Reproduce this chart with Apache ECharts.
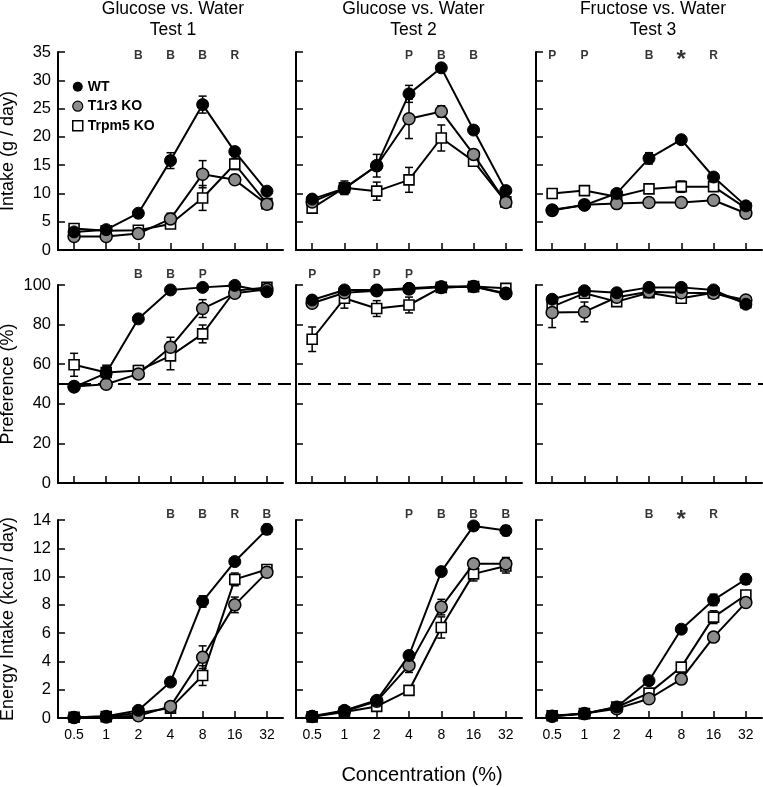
<!DOCTYPE html>
<html>
<head>
<meta charset="utf-8">
<script src="https://cdn.jsdelivr.net/npm/echarts@6/dist/echarts.min.js"></script>
<style>html,body{margin:0;padding:0;background:#fff;}#c{width:763px;height:787px;}</style>
</head>
<body>
<div id="c"></div>
<script>
// ---------- DATA ----------
const concentrations = ['0.5', '1', '2', '4', '8', '16', '32'];
const seriesNames = ['WT', 'T1r3 KO', 'Trpm5 KO'];
const panelTitles = ['Glucose vs. Water\nTest 1', 'Glucose vs. Water\nTest 2', 'Fructose vs. Water\nTest 3'];
const rowNames = ['Intake (g / day)', 'Preference (%)', 'Energy Intake (kcal / day)'];
const xAxisTitle = 'Concentration (%)';
const chanceLevel = 50;

// Row 1: intake (g/day)
const intakeT1_WT = [3.2, 3.6, 6.5, 15.8, 25.7, 17.4, 10.4];
const intakeT1_WT_err = [0.3, 0.3, 0.4, 1.4, 1.5, 0.6, 0.5];
const intakeT1_T1r3 = [2.4, 2.4, 2.9, 5.5, 13.4, 12.4, 8.1];
const intakeT1_T1r3_err = [0.3, 0.3, 0.3, 1.0, 2.4, 0.7, 0.4];
const intakeT1_Trpm5 = [3.8, 3.4, 3.5, 4.6, 9.2, 15.2, 8.2];
const intakeT1_Trpm5_err = [0.3, 0.3, 0.3, 0.5, 2.2, 1.0, 0.5];

const intakeT2_WT = [9.0, 10.9, 14.9, 27.6, 32.2, 21.2, 10.5];
const intakeT2_WT_err = [0.5, 1.0, 0.6, 1.5, 0.6, 0.6, 0.5];
const intakeT2_T1r3 = [8.5, 10.9, 14.9, 23.2, 24.5, 16.9, 8.4];
const intakeT2_T1r3_err = [0.5, 1.0, 2.0, 3.5, 1.0, 0.8, 0.4];
const intakeT2_Trpm5 = [7.4, 11.0, 10.4, 12.4, 19.8, 15.7, 8.5];
const intakeT2_Trpm5_err = [0.6, 1.2, 1.6, 2.2, 2.3, 0.6, 0.4];

const intakeT3_WT = [7.1, 7.9, 10.0, 16.2, 19.5, 12.9, 7.8];
const intakeT3_WT_err = [0.4, 0.4, 0.4, 1.0, 0.6, 0.5, 0.4];
const intakeT3_T1r3 = [7.0, 8.0, 8.2, 8.4, 8.4, 8.8, 6.5];
const intakeT3_T1r3_err = [0.3, 0.3, 0.3, 0.3, 0.5, 0.3, 0.3];
const intakeT3_Trpm5 = [10.0, 10.5, 9.4, 10.8, 11.2, 11.2, 7.4];
const intakeT3_Trpm5_err = [0.8, 0.8, 0.4, 0.5, 1.0, 0.5, 0.3];

// Row 2: preference (%)
const prefT1_WT = [48.4, 55.5, 82.9, 97.5, 98.8, 99.8, 96.6];
const prefT1_WT_err = [1.5, 4.0, 1.5, 1.0, 1.0, 0.5, 1.0];
const prefT1_T1r3 = [48.7, 49.9, 55.1, 68.6, 88.1, 95.8, 97.8];
const prefT1_T1r3_err = [1.0, 1.0, 2.0, 5.0, 4.5, 1.0, 1.0];
const prefT1_Trpm5 = [59.7, 55.8, 56.8, 64.2, 75.3, 97.1, 98.8];
const prefT1_Trpm5_err = [5.8, 3.0, 2.5, 7.0, 4.5, 1.0, 1.0];

const prefT2_WT = [92.4, 97.5, 97.5, 98.3, 99.2, 99.2, 95.5];
const prefT2_WT_err = [1.5, 1.0, 1.0, 1.0, 0.5, 0.5, 1.5];
const prefT2_T1r3 = [90.8, 96.1, 97.1, 98.0, 98.8, 99.2, 95.8];
const prefT2_T1r3_err = [1.5, 1.0, 1.0, 1.0, 0.5, 0.5, 1.0];
const prefT2_Trpm5 = [72.6, 93.3, 88.1, 89.9, 98.8, 99.2, 98.3];
const prefT2_Trpm5_err = [6.2, 5.0, 4.0, 4.0, 0.5, 0.5, 1.0];

const prefT3_WT = [92.8, 97.1, 96.1, 98.8, 98.8, 97.5, 90.3];
const prefT3_WT_err = [1.0, 1.0, 1.0, 1.0, 1.0, 1.0, 1.0];
const prefT3_T1r3 = [86.1, 86.4, 93.8, 96.6, 96.1, 95.8, 92.4];
const prefT3_T1r3_err = [7.6, 5.0, 1.5, 1.0, 1.5, 1.0, 1.0];
const prefT3_Trpm5 = [89.1, 95.8, 91.6, 96.1, 93.3, 96.1, 91.1];
const prefT3_Trpm5_err = [2.0, 1.5, 1.5, 1.0, 2.0, 1.0, 1.0];

// Row 3: energy intake (kcal/day)
const energyT1_WT = [0.04, 0.12, 0.54, 2.54, 8.24, 11.06, 13.34];
const energyT1_WT_err = [0.02, 0.03, 0.05, 0.15, 0.4, 0.2, 0.35];
const energyT1_T1r3 = [0.03, 0.07, 0.16, 0.82, 4.3, 8.0, 10.3];
const energyT1_T1r3_err = [0.02, 0.03, 0.05, 0.2, 0.8, 0.55, 0.3];
const energyT1_Trpm5 = [0.05, 0.1, 0.35, 0.7, 3.0, 9.8, 10.5];
const energyT1_Trpm5_err = [0.02, 0.03, 0.05, 0.15, 0.7, 0.45, 0.3];

const energyT2_WT = [0.12, 0.54, 1.25, 4.42, 10.35, 13.58, 13.25];
const energyT2_WT_err = [0.03, 0.05, 0.1, 0.3, 0.25, 0.2, 0.35];
const energyT2_T1r3 = [0.1, 0.47, 1.18, 3.72, 7.84, 10.9, 10.9];
const energyT2_T1r3_err = [0.03, 0.05, 0.1, 0.5, 0.55, 0.35, 0.45];
const energyT2_Trpm5 = [0.08, 0.42, 0.82, 1.95, 6.4, 10.19, 10.75];
const energyT2_Trpm5_err = [0.03, 0.05, 0.1, 0.2, 0.75, 0.5, 0.5];

const energyT3_WT = [0.12, 0.3, 0.78, 2.64, 6.28, 8.35, 9.81];
const energyT3_WT_err = [0.03, 0.03, 0.05, 0.15, 0.2, 0.4, 0.35];
const energyT3_T1r3 = [0.12, 0.31, 0.66, 1.36, 2.75, 5.72, 8.16];
const energyT3_T1r3_err = [0.03, 0.03, 0.05, 0.1, 0.2, 0.3, 0.3];
const energyT3_Trpm5 = [0.16, 0.31, 0.78, 1.76, 3.6, 7.13, 8.7];
const energyT3_Trpm5_err = [0.03, 0.03, 0.05, 0.1, 0.2, 0.45, 0.3];

// Significance letters
const sigIntake1 = ['', '', 'B', 'B', 'B', 'R', ''];
const sigIntake2 = ['', '', '', 'P', 'B', 'B', ''];
const sigIntake3 = ['P', 'P', '', 'B', '*', 'R', ''];
const sigPref1 = ['', '', 'B', 'B', 'P', '', ''];
const sigPref2 = ['P', '', 'P', 'P', '', '', ''];
const sigPref3 = ['', '', '', '', '', '', ''];
const sigEnergy1 = ['', '', '', 'B', 'B', 'R', 'B'];
const sigEnergy2 = ['', '', '', 'P', 'B', 'B', 'B'];
const sigEnergy3 = ['', '', '', 'B', '*', 'R', ''];

// Axis ranges
const yMax = [35, 100, 14];
const yInterval = [5, 20, 2];

// ---------- LAYOUT / STYLE ----------
const FONT = '"Liberation Sans", Arial, sans-serif';
const GRAY = '#8c8c8c';
const colLeft = [58, 296, 536];
const colWidth = [225, 226, 226];
const rowTop = [52, 285, 520];
const rowHeight = 198;
const titleCenters = [173, 413.5, 653];
const sigOffset = [4, -10, -5];
const starOffset = [8.5, 0, 0.5];

const panels = [
  [[intakeT1_WT, intakeT1_WT_err, intakeT1_T1r3, intakeT1_T1r3_err, intakeT1_Trpm5, intakeT1_Trpm5_err, sigIntake1],
   [intakeT2_WT, intakeT2_WT_err, intakeT2_T1r3, intakeT2_T1r3_err, intakeT2_Trpm5, intakeT2_Trpm5_err, sigIntake2],
   [intakeT3_WT, intakeT3_WT_err, intakeT3_T1r3, intakeT3_T1r3_err, intakeT3_Trpm5, intakeT3_Trpm5_err, sigIntake3]],
  [[prefT1_WT, prefT1_WT_err, prefT1_T1r3, prefT1_T1r3_err, prefT1_Trpm5, prefT1_Trpm5_err, sigPref1],
   [prefT2_WT, prefT2_WT_err, prefT2_T1r3, prefT2_T1r3_err, prefT2_Trpm5, prefT2_Trpm5_err, sigPref2],
   [prefT3_WT, prefT3_WT_err, prefT3_T1r3, prefT3_T1r3_err, prefT3_Trpm5, prefT3_Trpm5_err, sigPref3]],
  [[energyT1_WT, energyT1_WT_err, energyT1_T1r3, energyT1_T1r3_err, energyT1_Trpm5, energyT1_Trpm5_err, sigEnergy1],
   [energyT2_WT, energyT2_WT_err, energyT2_T1r3, energyT2_T1r3_err, energyT2_Trpm5, energyT2_Trpm5_err, sigEnergy2],
   [energyT3_WT, energyT3_WT_err, energyT3_T1r3, energyT3_T1r3_err, energyT3_Trpm5, energyT3_Trpm5_err, sigEnergy3]]
];

const grids = [], xAxes = [], yAxes = [], series = [];

function errorSeries(idx, vals, errs, z) {
  return {
    type: 'custom', xAxisIndex: idx, yAxisIndex: idx, z: z, silent: true,
    data: vals.map((v, i) => [i, v, errs[i]]),
    encode: { x: 0, y: 1 },
    clip: false,
    renderItem: function (params, api) {
      const i = api.value(0), v = api.value(1), e = api.value(2);
      if (!e) return null;
      const hi = api.coord([i, v + e]);
      const lo = api.coord([i, Math.max(0, v - e)]);
      const w = 4;
      const st = { stroke: '#000', lineWidth: 1.5 };
      return {
        type: 'group',
        children: [
          { type: 'line', shape: { x1: hi[0], y1: hi[1], x2: lo[0], y2: lo[1] }, style: st },
          { type: 'line', shape: { x1: hi[0] - w, y1: hi[1], x2: hi[0] + w, y2: hi[1] }, style: st },
          { type: 'line', shape: { x1: lo[0] - w, y1: lo[1], x2: lo[0] + w, y2: lo[1] }, style: st }
        ]
      };
    }
  };
}

function lineSeries(idx, name, vals, kind, z) {
  let symbol = 'circle', size = 12, itemStyle;
  if (kind === 0) itemStyle = { color: '#000', borderColor: '#000', borderWidth: 1 };
  else if (kind === 1) itemStyle = { color: GRAY, borderColor: '#000', borderWidth: 1.5 };
  else { symbol = 'rect'; size = 10; itemStyle = { color: '#fff', borderColor: '#000', borderWidth: 1.6 }; }
  return {
    type: 'line', name: name, xAxisIndex: idx, yAxisIndex: idx, z: z,
    data: vals, symbol: symbol, symbolSize: size, showAllSymbol: true,
    lineStyle: { color: '#000', width: 2 }, itemStyle: itemStyle,
    emphasis: { disabled: true }, silent: true, clip: false, animation: false
  };
}

for (let r = 0; r < 3; r++) {
  for (let c = 0; c < 3; c++) {
    const idx = r * 3 + c;
    grids.push({ left: colLeft[c], top: rowTop[r], width: colWidth[c], height: rowHeight, outerBoundsMode: 'none', containLabel: false });
    xAxes.push({
      type: 'category', gridIndex: idx, data: concentrations, boundaryGap: true,
      axisLine: { show: true, onZero: false, lineStyle: { color: '#000', width: 2 } },
      axisTick: { show: true, inside: true, alignWithLabel: true, length: 7, lineStyle: { color: '#000', width: 1.5 } },
      axisLabel: { show: r === 2, fontSize: 14, color: '#000', fontFamily: FONT, margin: 10, interval: 0 },
      splitLine: { show: false }
    });
    yAxes.push({
      type: 'value', gridIndex: idx, min: 0, max: yMax[r], interval: yInterval[r],
      axisLine: { show: true, lineStyle: { color: '#000', width: 2 } },
      axisTick: { show: true, inside: true, length: 7, lineStyle: { color: '#000', width: 1.5 } },
      axisLabel: { show: c === 0, fontSize: 16.5, color: '#000', fontFamily: FONT, margin: 7 },
      splitLine: { show: false },
      name: c === 0 ? rowNames[r] : '', nameLocation: 'middle', nameGap: 41,
      nameTextStyle: { fontSize: 18, color: '#000', fontFamily: FONT }
    });
    const p = panels[r][c];
    series.push(errorSeries(idx, p[4], p[5], 2));
    series.push(errorSeries(idx, p[2], p[3], 2));
    series.push(errorSeries(idx, p[0], p[1], 2));
    series.push(lineSeries(idx, seriesNames[2], p[4], 2, 3));
    series.push(lineSeries(idx, seriesNames[1], p[2], 1, 4));
    series.push(lineSeries(idx, seriesNames[0], p[0], 0, 5));
    // significance letters
    const sig = p[6];
    const sdata = [];
    sig.forEach((s, i) => {
      if (!s) return;
      const star = s === '*';
      sdata.push({
        value: [i, yMax[r]],
        label: {
          show: true,
          position: 'inside',
          formatter: s,
          fontSize: star ? 24 : 12,
          fontWeight: 'bold',
          color: '#000',
          fontFamily: FONT,
          offset: [0, star ? starOffset[r] : sigOffset[r]]
        }
      });
    });
    series.push({
      type: 'scatter', xAxisIndex: idx, yAxisIndex: idx, data: sdata, symbolSize: 1,
      itemStyle: { color: 'rgba(0,0,0,0)' }, silent: true, clip: false, z: 10,
      label: { show: true, position: 'inside', color: '#000', fontWeight: 'bold', fontFamily: FONT, fontSize: 12 }
    });
  }
}

// chance (50%) dashed line spanning the preference row
grids.push({ left: colLeft[0], top: rowTop[1], width: 763 - colLeft[0], height: rowHeight, outerBoundsMode: 'none' });
xAxes.push({ type: 'value', gridIndex: 9, min: 0, max: 1, show: false });
yAxes.push({ type: 'value', gridIndex: 9, min: 0, max: 100, show: false });
series.push({
  type: 'line', xAxisIndex: 9, yAxisIndex: 9, data: [[0, chanceLevel], [1, chanceLevel]],
  symbol: 'none', silent: true, z: 1,
  lineStyle: { color: '#000', width: 1.8, type: [13, 7] }
});

const titles = panelTitles.map((t, c) => ({
  text: t, left: titleCenters[c], top: -2, textAlign: 'center', padding: 0,
  textStyle: { fontSize: 17.5, fontWeight: 'normal', color: '#000', fontFamily: FONT, lineHeight: 21.5 }
}));
titles.push({
  text: xAxisTitle, left: 422, top: 765.5, textAlign: 'center', padding: 0,
  textStyle: { fontSize: 20, fontWeight: 'normal', color: '#000', fontFamily: FONT, lineHeight: 20 }
});

const chart = echarts.init(document.getElementById('c'), null, { renderer: 'canvas' });
chart.setOption({
  animation: false,
  backgroundColor: '#fff',
  title: titles,
  legend: {
    orient: 'vertical', left: 72, top: 79.7, padding: 0, itemWidth: 10, itemHeight: 10, itemGap: 5.5,
    selectedMode: false,
    textStyle: { fontSize: 14, fontWeight: 'bold', color: '#000', fontFamily: FONT, lineHeight: 14 },
    data: [
      { name: 'WT', icon: 'circle', itemStyle: { color: '#000', borderWidth: 0 } },
      { name: 'T1r3 KO', icon: 'circle', itemStyle: { color: GRAY, borderColor: '#000', borderWidth: 1.2 } },
      { name: 'Trpm5 KO', icon: 'rect', itemStyle: { color: '#fff', borderColor: '#000', borderWidth: 1.5 } }
    ]
  },
  grid: grids,
  xAxis: xAxes,
  yAxis: yAxes,
  series: series
});
</script>
</body>
</html>
